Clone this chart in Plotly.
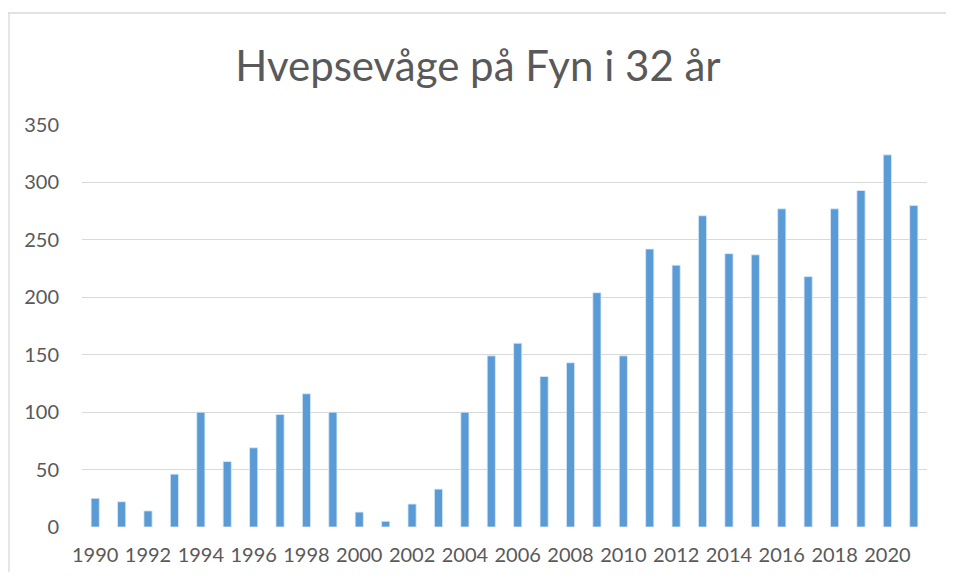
import plotly.graph_objects as go

years = list(range(1990, 2022))
counts = [25, 22, 14, 46, 100, 57, 69, 98, 116, 100,
          13, 5, 20, 33, 100, 149, 160, 131, 143, 204,
          149, 242, 228, 271, 238, 237, 277, 218, 277, 293,
          324, 280]
title_text = "Hvepsevåge på Fyn i 32 år"
y_ticks = [0, 50, 100, 150, 200, 250, 300, 350]
x_ticks = list(range(1990, 2022, 2))

# page has an 8px body margin; figure sized to fit the window
W, H = 938, 564
L, R, T, B = 74, 19, 117, 45
pw, ph = W - L - R, H - T - B

fig = go.Figure()
fig.add_trace(go.Bar(
    x=years, y=counts,
    marker=dict(color="#5B9BD5", line=dict(color="#DDEBF7", width=0.8)),
    width=0.31,
))

fig.update_layout(
    width=W, height=H,
    margin=dict(l=L, r=R, t=T, b=B),
    paper_bgcolor="white", plot_bgcolor="white",
    font=dict(family="Lato, sans-serif", color="#595959"),
    title=dict(text=title_text, x=(218 + 722) / 2 / W, xanchor="center",
               y=1 - 58 / H, yanchor="middle",
               font=dict(size=42, color="#595959", family="Lato, sans-serif")),
    showlegend=False,
    xaxis=dict(range=[1989.5, 2021.5], tickmode="array", tickvals=x_ticks,
               ticktext=[str(v) for v in x_ticks], tickfont=dict(size=20),
               showgrid=False, zeroline=False, showline=False, ticks="",
               ticklabelstandoff=14, automargin=False),
    yaxis=dict(range=[0, 350], tickmode="array", tickvals=y_ticks,
               tickfont=dict(size=20), showgrid=True, gridcolor="#D9D9D9",
               gridwidth=1.3, zeroline=False, showline=False, ticks="",
               ticklabelstandoff=22, automargin=False),
    shapes=[
        dict(type="line", xref="paper", yref="paper",
             x0=-L / pw, x1=1 + R / pw, y0=1 + (T - 5) / ph, y1=1 + (T - 5) / ph,
             line=dict(color="#D9D9D9", width=1.3)),
        dict(type="line", xref="paper", yref="paper",
             x0=-(L - 1) / pw, x1=-(L - 1) / pw, y0=1 + (T - 5) / ph, y1=-B / ph,
             line=dict(color="#D9D9D9", width=1.3)),
    ],
)

fig.write_html("out.html")
